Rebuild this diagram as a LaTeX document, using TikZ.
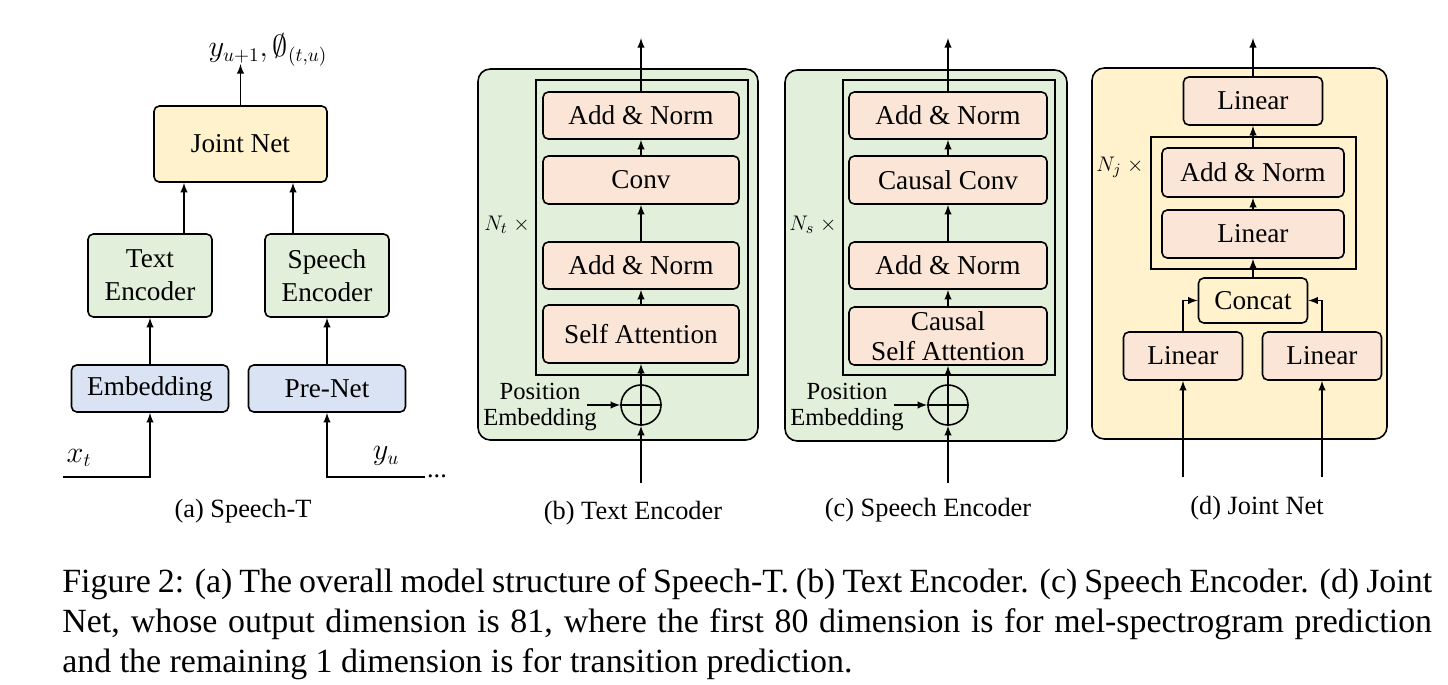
\documentclass[tikz,border=0pt]{standalone}
\usepackage{fontspec}
\setmainfont{Liberation Serif}
\usetikzlibrary{positioning}

\definecolor{jointyellow}{HTML}{FFF2CC}
\definecolor{encgreen}{HTML}{E2EFDA}
\definecolor{layerpink}{HTML}{FBE5D6}
\definecolor{inputblue}{HTML}{DAE3F3}

\begin{document}
\begin{tikzpicture}[x = 0.02cm, y = -0.02cm, >=latex,
		blk/.style = {draw = black, line width = 0.9pt, rounded corners = 3pt, align = center, inner sep = 0pt, font = \fontsize{15.5}{19}\selectfont},
		panel/.style = {draw = black, line width = 0.9pt, rounded corners = 7pt},
		frame/.style = {draw = black, line width = 1.1pt},
		arr/.style = {black, line width = 0.9pt, ->},
		plus/.style = {draw = black, circle, line width = 0.9pt, minimum size = 0.8cm, inner sep = 0pt},
		lbl/.style = {font = \fontsize{14}{15.3}\selectfont, align = center},
		rep/.style = {font = \fontsize{13}{15}\selectfont},
		subcap/.style = {font = \fontsize{15}{18}\selectfont}]
	\useasboundingbox (0, 0) rectangle (1448, 684);

	% (a) Speech-T
	\node [blk, fill = jointyellow, minimum width = 3.46cm, minimum height = 1.52cm] (joint) at (240.5, 144) {Joint Net};
	\node [blk, fill = encgreen, minimum width = 2.48cm, minimum height = 1.66cm] (textenc) at (150, 275.5) {Text\\Encoder};
	\node [blk, fill = encgreen, minimum width = 2.48cm, minimum height = 1.66cm] (speechenc) at (327, 275.5) {Speech\\Encoder};
	\node [blk, fill = inputblue, minimum width = 3.14cm, minimum height = 0.94cm] (embed) at (150, 388.5) {Embedding};
	\node [blk, fill = inputblue, minimum width = 3.14cm, minimum height = 0.94cm] (prenet) at (327, 388.5) {Pre-Net};
	\coordinate (ja) at (184, 0);
	\coordinate (jb) at (293, 0);
	\coordinate (jout) at (240.5, 64);
	\coordinate (xin) at (63, 477);
	\coordinate (yin) at (425, 477);
	\draw [arr] (embed.north) -- (textenc.south);
	\draw [arr] (prenet.north) -- (speechenc.south);
	\draw [arr] (textenc.north -| ja) -- (joint.south -| ja);
	\draw [arr] (speechenc.north -| jb) -- (joint.south -| jb);
	\draw [arr] (joint.north) -- (jout);
	\draw [arr] (xin) -| (embed.south);
	\draw [arr] (yin) -| (prenet.south);
	\node [font = \fontsize{16}{18}\selectfont] (yout) at (268, 50) {$y_{u+1},\emptyset_{(t,u)}$};
	\node [font = \fontsize{16}{18}\selectfont] (xt) at (79, 458) {$x_t$};
	\node [font = \fontsize{16}{18}\selectfont] (yu) at (386, 456) {$y_u$};
	\node [anchor = base west, inner sep = 1pt, font = \fontsize{15}{18}\selectfont] (ydots) at (yin) {...};
	\node [subcap] (capa) at (243, 511) {(a) Speech-T};

	% (b) Text Encoder
	\draw [panel, fill = encgreen] (478, 69) rectangle (758, 440);
	\draw [frame] (536, 80) rectangle (748, 375);
	\node [blk, fill = layerpink, minimum width = 3.92cm, minimum height = 0.94cm] (anbtop) at (641, 115.5) {Add \& Norm};
	\node [blk, fill = layerpink, minimum width = 3.92cm, minimum height = 0.96cm] (convb) at (641, 180) {Conv};
	\node [blk, fill = layerpink, minimum width = 3.92cm, minimum height = 0.94cm] (anbbot) at (641, 265.5) {Add \& Norm};
	\node [blk, fill = layerpink, minimum width = 3.92cm, minimum height = 1.16cm] (attb) at (641, 334) {Self Attention};
	\node [plus] (plusb) at (641, 405) {};
	\draw [line width = 0.9pt] (plusb.west) -- (plusb.east);
	\node [lbl] (posb) at (540, 407) {Position\\Embedding};
	\node [rep] (ntb) at (507, 225) {$N_t$ $\times$};
	\coordinate (posbend) at (587, 405);
	\coordinate (inb) at (641, 483);
	\coordinate (outb) at (641, 38);
	\draw [arr] (inb) -- (plusb.south);
	\draw [arr] (plusb.south) -- (attb.south);
	\draw [arr] (attb.north) -- (anbbot.south);
	\draw [arr] (anbbot.north) -- (convb.south);
	\draw [arr] (convb.north) -- (anbtop.south);
	\draw [arr] (anbtop.north) -- (outb);
	\draw [arr] (posbend) -- (plusb.west);
	\node [subcap] (capb) at (633, 513) {(b) Text Encoder};

	% (c) Speech Encoder
	\draw [panel, fill = encgreen] (785, 70) rectangle (1067, 441);
	\draw [frame] (843, 80) rectangle (1055, 375);
	\node [blk, fill = layerpink, minimum width = 3.96cm, minimum height = 0.94cm] (anctop) at (948, 115.5) {Add \& Norm};
	\node [blk, fill = layerpink, minimum width = 3.96cm, minimum height = 0.96cm] (convc) at (948, 180) {Causal Conv};
	\node [blk, fill = layerpink, minimum width = 3.96cm, minimum height = 0.94cm] (ancbot) at (948, 265.5) {Add \& Norm};
	\node [blk, fill = layerpink, minimum width = 3.96cm, minimum height = 1.16cm, font = \fontsize{15.5}{17}\selectfont] (attc) at (948, 336) {Causal\\Self Attention};
	\node [plus] (plusc) at (948, 405) {};
	\draw [line width = 0.9pt] (plusc.west) -- (plusc.east);
	\node [lbl] (posc) at (847, 407) {Position\\Embedding};
	\node [rep] (ntc) at (813, 225) {$N_s$ $\times$};
	\coordinate (poscend) at (894, 405);
	\coordinate (inc) at (948, 483);
	\coordinate (outc) at (948, 38);
	\draw [arr] (inc) -- (plusc.south);
	\draw [arr] (plusc.south) -- (attc.south);
	\draw [arr] (attc.north) -- (ancbot.south);
	\draw [arr] (ancbot.north) -- (convc.south);
	\draw [arr] (convc.north) -- (anctop.south);
	\draw [arr] (anctop.north) -- (outc);
	\draw [arr] (poscend) -- (plusc.west);
	\node [subcap] (capc) at (928, 510) {(c) Speech Encoder};

	% (d) Joint Net
	\draw [panel, fill = jointyellow] (1092, 68) rectangle (1387, 439);
	\draw [frame] (1151, 137) rectangle (1356, 269);
	\node [blk, fill = layerpink, minimum width = 2.78cm, minimum height = 0.96cm] (lintop) at (1253, 101) {Linear};
	\node [blk, fill = layerpink, minimum width = 3.64cm, minimum height = 0.98cm] (andd) at (1253, 172.5) {Add \& Norm};
	\node [blk, fill = layerpink, minimum width = 3.64cm, minimum height = 0.96cm] (linmid) at (1253, 234) {Linear};
	\node [blk, fill = jointyellow, minimum width = 2.18cm, minimum height = 0.9cm] (concat) at (1253, 300.5) {Concat};
	\node [blk, fill = layerpink, minimum width = 2.38cm, minimum height = 0.96cm] (linl) at (1183, 356) {Linear};
	\node [blk, fill = layerpink, minimum width = 2.38cm, minimum height = 0.96cm] (linr) at (1322, 356) {Linear};
	\node [rep] (ntd) at (1120, 167) {$N_j$ $\times$};
	\coordinate (ind1) at (1183, 477);
	\coordinate (ind2) at (1322, 477);
	\coordinate (outd) at (1253, 38);
	\draw [arr] (ind1) -- (linl.south);
	\draw [arr] (ind2) -- (linr.south);
	\draw [arr] (linl.north) |- (concat.west);
	\draw [arr] (linr.north) |- (concat.east);
	\draw [arr] (concat.north) -- (linmid.south);
	\draw [arr] (linmid.north) -- (andd.south);
	\draw [arr] (andd.north) -- (lintop.south);
	\draw [arr] (lintop.north) -- (outd);
	\node [subcap] (capd) at (1257, 508) {(d) Joint Net};

	% figure caption
	\node [anchor = north west, text width = 27.4cm, align = justify, inner sep = 0pt, font = \fontsize{19.3}{22.7}\selectfont] (figcap) at (62, 568) {Figure 2: (a) The overall model structure of Speech-T. (b) Text Encoder. (c) Speech Encoder. (d) Joint\linebreak Net, whose output dimension is 81, where the first 80 dimension is for mel-spectrogram prediction\linebreak and the remaining 1 dimension is for transition prediction.};
\end{tikzpicture}
\end{document}
